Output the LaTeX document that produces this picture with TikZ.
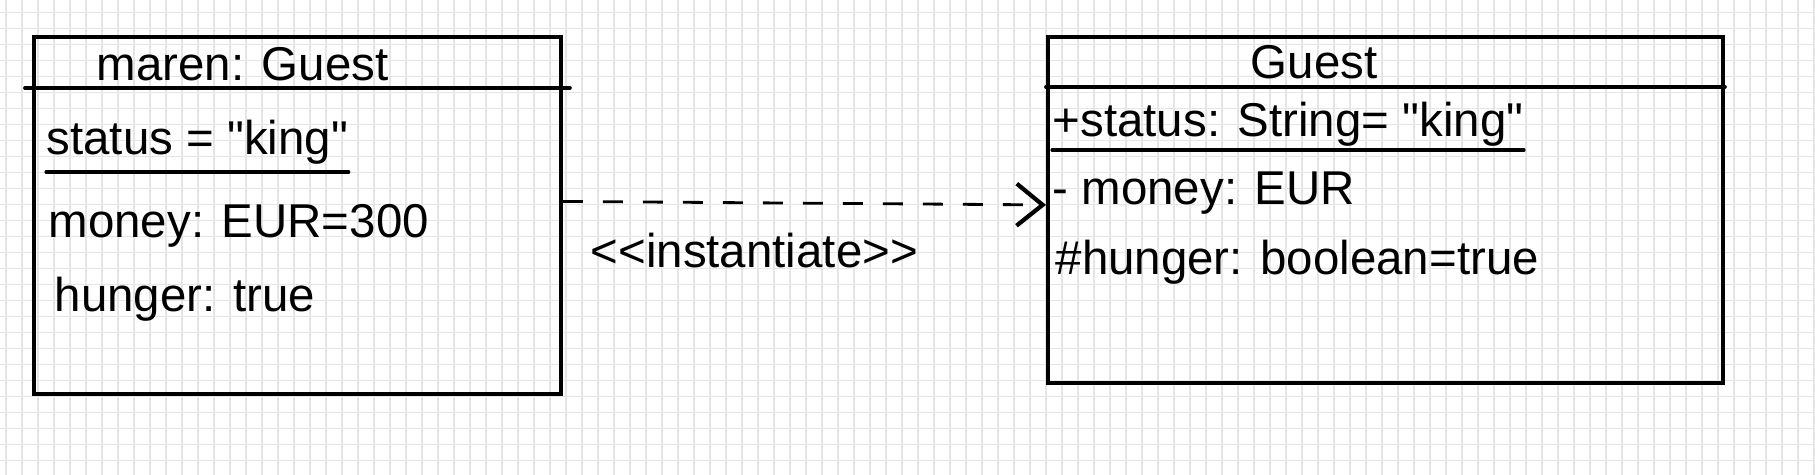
\documentclass[tikz,border=0pt]{standalone}
\usepackage{fontspec}
\setmainfont{Liberation Sans}[Ligatures=TeXOff]
\usepackage{tikz}
\usetikzlibrary{positioning,arrows.meta,calc}
\definecolor{ink}{RGB}{0,0,0}
\definecolor{paper}{RGB}{229,229,229}
\tikzset{
  umlbox/.style={draw=ink, line width=1.1pt, inner sep=0pt, anchor=north west},
  divider/.style={draw=ink, line width=1.1pt, line cap=round},
  attr/.style={inner sep=0pt, anchor=base west, text=ink,
    font=\fontsize{13.5}{16}\selectfont},
  uline/.style={draw=ink, line width=0.9pt, line cap=round},
  dep/.style={-{Straight Barb[length=2.6mm,width=4.2mm,line width=1.2pt]},
    draw=ink, line width=0.8pt, dash pattern=on 2mm off 2mm},
  gridline/.style={draw=paper, line width=0.5pt},
}

\begin{document}
\begin{tikzpicture}[x=1mm,y=1mm]
  \useasboundingbox (0,0) rectangle (181.5,47.5);
  % squared paper
  \foreach \i in {0,...,113} \draw[gridline] (0.6+1.6*\i,0) -- (0.6+1.6*\i,47.5);
  \foreach \j in {0,...,28} \draw[gridline] (0,46.25-1.6*\j) -- (181.5,46.25-1.6*\j);

  % object
  \node[umlbox, minimum width=52.7mm, minimum height=35.7mm] (obj) at (3.2,44.0) {};
  \draw[divider] ([xshift=-0.7mm]obj.west |- 0,38.7) -- ([xshift=0.7mm]obj.east |- 0,38.7);
  \node[attr] (oname) at (9.6,39.4) {maren: Guest};
  \node[attr] (ost) at (4.6,32.0) {status = "king"};
  \draw[uline] ([yshift=-1.7mm]ost.base west) -- ([yshift=-1.7mm]ost.base east);
  \node[attr] (omo) at (4.8,23.7) {money: EUR=300};
  \node[attr] (ohu) at (5.4,16.3) {hunger: true};

  % class
  \node[umlbox, minimum width=67.5mm, minimum height=34.6mm] (cls) at (104.6,44.0) {};
  \draw[divider] (cls.west |- 0,38.8) -- (cls.east |- 0,38.8);
  \node[attr, anchor=base] (cname) at (131.4,39.6) {Guest};
  \node[attr] (cst) at (105.2,33.8) {+status: String= "king"};
  \draw[uline] ([yshift=-1.3mm]cst.base west) -- ([yshift=-1.3mm]cst.base east);
  \node[attr] (cmo) at (105.2,27.0) {- money: EUR};
  \node[attr] (chu) at (105.5,20.0) {\#hunger: boolean=true};

  % instantiation
  \draw[dep] ([yshift=1.4mm]obj.east) -- ([yshift=0.5mm]cls.west);
  \node[attr] (inst) at (59.0,20.7) {<<instantiate>>};
\end{tikzpicture}
\end{document}
